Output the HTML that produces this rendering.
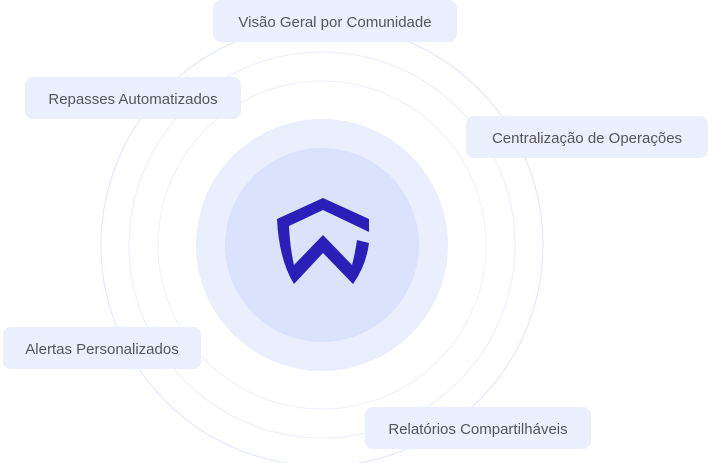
<!DOCTYPE html>
<html><head><style>
body{margin:0;width:708px;height:463px;background:#fff;position:relative;overflow:hidden;font-family:"Liberation Sans",sans-serif}
.b{position:absolute;background:#eceffd;border-radius:8px;color:#555560;font-size:15px;display:flex;align-items:center;justify-content:center;height:42px;padding-top:2px;box-sizing:border-box}
</style></head><body>
<svg width="708" height="463" style="position:absolute;left:0;top:0">
<circle cx="322" cy="245" r="221" fill="none" stroke="#e6e9fb" stroke-width="1.2"/>
<circle cx="322" cy="245" r="193" fill="none" stroke="#eef0fc" stroke-width="1.2"/>
<circle cx="322" cy="245" r="164" fill="none" stroke="#f1f2fc" stroke-width="1.2"/>
<circle cx="322" cy="245" r="126" fill="#ebeefd"/>
<circle cx="322" cy="245" r="97" fill="#dae2fc"/>
<path d="M323 198 L369 219 L369 232 L323 210 L289 226 Q290 248 294 265 L323 235 L352 265 Q355 254 357 240 L369 243 Q366 266 353 284 L323 253 L294 284 Q279 260 277 219 Z" fill="#2a1fb8"/>
</svg>
<div class="b" style="left:213px;top:0;width:244px">Visão Geral por Comunidade</div>
<div class="b" style="left:25px;top:77px;width:216px">Repasses Automatizados</div>
<div class="b" style="left:466px;top:116px;width:242px">Centralização de Operações</div>
<div class="b" style="left:3px;top:327px;width:198px">Alertas Personalizados</div>
<div class="b" style="left:365px;top:407px;width:226px">Relatórios Compartilháveis</div>
</body></html>
